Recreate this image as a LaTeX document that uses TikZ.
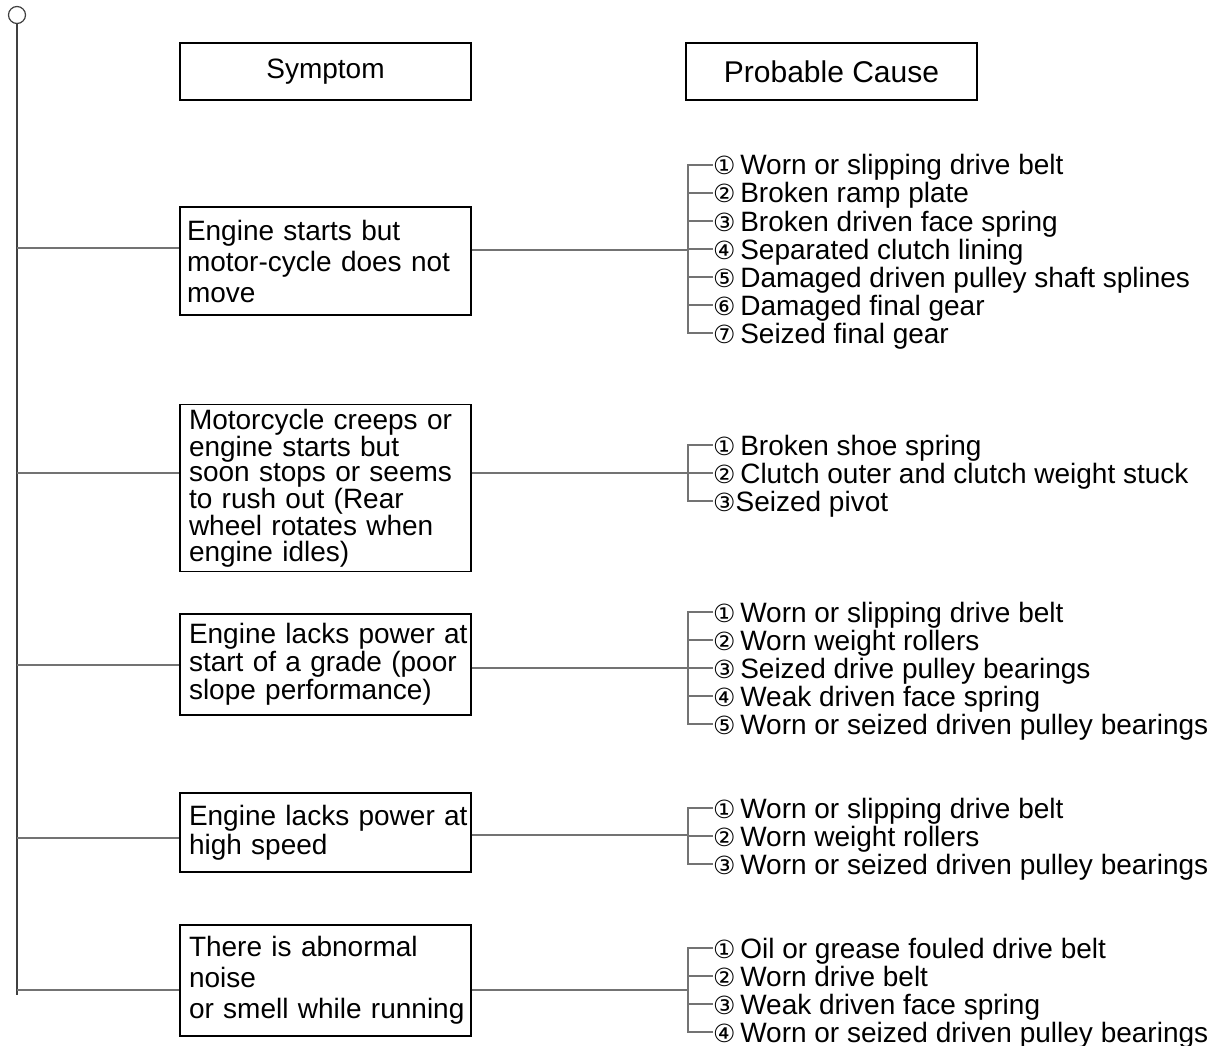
\documentclass[tikz,border=0pt]{standalone}
\usepackage{fontspec}
\setmainfont{Liberation Sans}
\newfontfamily\numfont{DejaVu Sans}
\usetikzlibrary{positioning}
\newcommand{\cnum}[1]{{\numfont\fontsize{25}{25}\selectfont #1}}

\begin{document}
\begin{tikzpicture}[x=1pt, y=-1pt,
    header/.style={rectangle, draw, line width=1.2pt, minimum width=291pt, minimum height=57pt, font=\fontsize{28}{30}\selectfont},
    symptom/.style={rectangle, draw, line width=1.2pt, text width=285pt, align=left, inner xsep=3pt, inner ysep=0pt},
    cause/.style={anchor=west, inner sep=0pt, text height=24pt, text depth=4pt, font=\fontsize{28}{28}\selectfont},
    link/.style={draw=black!55, line width=1.2pt},
    trunk/.style={draw=black!75, line width=1.2pt}]
    \useasboundingbox (0,0) rectangle (1224,1046);

    % Headers
    \node[header] (hsym) at (325.5,71.5) {Symptom};
    \node[header, font=\fontsize{30}{32}\selectfont] (hcause) at (831.5,71.5) {Probable Cause};

    % Symptoms
    \node[symptom, minimum height=108pt, font=\fontsize{28}{31}\selectfont] (s1) at (325.5,261) {\hspace{4pt}Engine starts but\\\hspace{4pt}motor-cycle does not\\\hspace{4pt}move};
    \node[symptom, minimum height=167pt, font=\fontsize{28}{25.5}\selectfont] (s2) at (325.5,488) {\hspace{6pt}Motorcycle creeps or\\\hspace{6pt}engine starts but\\\hspace{6pt}soon stops or seems\\\hspace{6pt}to rush out (Rear\\\hspace{6pt}wheel rotates when\\\hspace{6pt}engine idles)};
    \node[symptom, minimum height=101pt, font=\fontsize{28}{28}\selectfont] (s3) at (325.5,664.5) {\hspace{6pt}Engine lacks power at\\\hspace{6pt}start of a grade (poor\\\hspace{6pt}slope performance)};
    \node[symptom, minimum height=79pt, font=\fontsize{28}{29}\selectfont] (s4) at (325.5,832.5) {\hspace{6pt}Engine lacks power at\\\hspace{6pt}high speed};
    \node[symptom, minimum height=111pt, font=\fontsize{28}{31}\selectfont] (s5) at (325.5,980.5) {\hspace{6pt}There is abnormal\\\hspace{6pt}noise\\\hspace{6pt}or smell while running};

    % Causes
    \node[cause] (c11) at (713,165) {\cnum{①}\,Worn or slipping drive belt};
    \node[cause] (c12) at (713,193) {\cnum{②}\,Broken ramp plate};
    \node[cause] (c13) at (713,221) {\cnum{③}\,Broken driven face spring};
    \node[cause] (c14) at (713,249) {\cnum{④}\,Separated clutch lining};
    \node[cause] (c15) at (713,277) {\cnum{⑤}\,Damaged driven pulley shaft splines};
    \node[cause] (c16) at (713,305) {\cnum{⑥}\,Damaged final gear};
    \node[cause] (c17) at (713,333) {\cnum{⑦}\,Seized final gear};

    \node[cause] (c21) at (713,445) {\cnum{①}\,Broken shoe spring};
    \node[cause] (c22) at (713,473) {\cnum{②}\,Clutch outer and clutch weight stuck};
    \node[cause] (c23) at (713,501) {\cnum{③}Seized pivot};

    \node[cause] (c31) at (713,612) {\cnum{①}\,Worn or slipping drive belt};
    \node[cause] (c32) at (713,640) {\cnum{②}\,Worn weight rollers};
    \node[cause] (c33) at (713,668) {\cnum{③}\,Seized drive pulley bearings};
    \node[cause] (c34) at (713,696) {\cnum{④}\,Weak driven face spring};
    \node[cause] (c35) at (713,724) {\cnum{⑤}\,Worn or seized driven pulley bearings};

    \node[cause] (c41) at (713,808) {\cnum{①}\,Worn or slipping drive belt};
    \node[cause] (c42) at (713,836) {\cnum{②}\,Worn weight rollers};
    \node[cause] (c43) at (713,864) {\cnum{③}\,Worn or seized driven pulley bearings};

    \node[cause] (c51) at (713,948) {\cnum{①}\,Oil or grease fouled drive belt};
    \node[cause] (c52) at (713,976) {\cnum{②}\,Worn drive belt};
    \node[cause] (c53) at (713,1004) {\cnum{③}\,Weak driven face spring};
    \node[cause] (c54) at (713,1032) {\cnum{④}\,Worn or seized driven pulley bearings};

    % Trunk on the left
    \node[circle, draw=black!75, line width=1.2pt, minimum size=17pt, inner sep=0pt] (top) at (17,15) {};
    \coordinate (bottom) at (17,995);
    \draw[trunk] (top) -- (bottom);
    \coordinate (j1) at (17,248);
    \coordinate (j2) at (17,473);
    \coordinate (j3) at (17,665);
    \coordinate (j4) at (17,838);
    \coordinate (j5) at (17,990);
    \foreach \i in {1,...,5}
        \draw[link] (j\i) -- (j\i -| s\i.west);

    % Links to the causes
    \coordinate (k1) at (688,250);
    \coordinate (k2) at (688,473);
    \coordinate (k3) at (688,668);
    \coordinate (k4) at (688,835);
    \coordinate (k5) at (688,990);
    \foreach \i in {1,...,5}
        \draw[link] (k\i -| s\i.east) -- (k\i);

    % Brackets
    \draw[link] (c11.west) -- (c11.west -| k1) -- (c17.west -| k1) -- (c17.west);
    \foreach \n in {c12,c13,c14,c15,c16}
        \draw[link] (k1 |- \n.west) -- (\n.west);
    \draw[link] (c21.west) -- (c21.west -| k2) -- (c23.west -| k2) -- (c23.west);
    \draw[link] (k2 |- c22.west) -- (c22.west);
    \draw[link] (c31.west) -- (c31.west -| k3) -- (c35.west -| k3) -- (c35.west);
    \foreach \n in {c32,c33,c34}
        \draw[link] (k3 |- \n.west) -- (\n.west);
    \draw[link] (c41.west) -- (c41.west -| k4) -- (c43.west -| k4) -- (c43.west);
    \draw[link] (k4 |- c42.west) -- (c42.west);
    \draw[link] (c51.west) -- (c51.west -| k5) -- (c54.west -| k5) -- (c54.west);
    \foreach \n in {c52,c53}
        \draw[link] (k5 |- \n.west) -- (\n.west);
\end{tikzpicture}
\end{document}
